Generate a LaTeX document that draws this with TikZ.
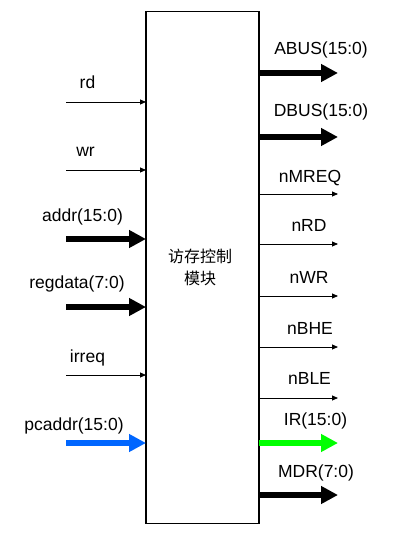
\documentclass[tikz,border=0pt]{standalone}
\usepackage{fontspec}
\setmainfont{Liberation Sans}
\newfontfamily\cjk{Noto Sans CJK SC}
\usetikzlibrary{arrows.meta}
\definecolor{busblue}{HTML}{0066FF}
\definecolor{busgreen}{HTML}{00FF00}
\begin{document}
\begin{tikzpicture}[x=1pt,y=-1pt,
  lbl/.style={anchor=base,inner sep=0pt,font=\fontsize{17.5}{20}\selectfont},
  thinsig/.style={line width=0.8pt,-{Triangle[length=6pt,width=5pt]}},
  bussig/.style={line width=6pt,-{Triangle[length=17pt,width=17pt]}},
]
\useasboundingbox (0,0) rectangle (408,534);
\node[draw,line width=1.2pt,minimum width=113pt,minimum height=511.7pt,inner sep=0pt,outer sep=0pt,anchor=north west] (box) at (146,11.5) {};
\node[font=\cjk\fontsize{16}{22}\selectfont,align=center,inner sep=0pt] (title) at (200,267) {访存控制\\模块};

% left inputs
\coordinate (rdS) at (66,102);
\coordinate (wrS) at (66,170);
\coordinate (addrS) at (66,239);
\coordinate (regS) at (66,307);
\coordinate (irqS) at (66,375);
\coordinate (pcS) at (66,443);
\draw[thinsig] (rdS) -- (rdS -| box.west);
\draw[thinsig] (wrS) -- (wrS -| box.west);
\draw[bussig] (addrS) -- (addrS -| box.west);
\draw[bussig] (regS) -- (regS -| box.west);
\draw[thinsig] (irqS) -- (irqS -| box.west);
\draw[bussig,busblue] (pcS) -- (pcS -| box.west);
\node[lbl] (rdL) at (87.5,89) {rd};
\node[lbl] (wrL) at (85.5,157) {wr};
\node[lbl] (addrL) at (82.5,222) {addr(15:0)};
\node[lbl] (regL) at (77,288) {regdata(7:0)};
\node[lbl] (irqL) at (87.5,362) {irreq};
\node[lbl] (pcL) at (74,430) {pcaddr(15:0)};

% right outputs
\coordinate (abusE) at (338,73);
\coordinate (dbusE) at (338,137);
\coordinate (mreqE) at (338,194);
\coordinate (nrdE) at (338,244);
\coordinate (nwrE) at (338,296);
\coordinate (bheE) at (338,347);
\coordinate (bleE) at (338,398);
\coordinate (irE) at (338,443);
\coordinate (mdrE) at (338,495);
\draw[bussig] (abusE -| box.east) -- (abusE);
\draw[bussig] (dbusE -| box.east) -- (dbusE);
\draw[thinsig] (mreqE -| box.east) -- (mreqE);
\draw[thinsig] (nrdE -| box.east) -- (nrdE);
\draw[thinsig] (nwrE -| box.east) -- (nwrE);
\draw[thinsig] (bheE -| box.east) -- (bheE);
\draw[thinsig] (bleE -| box.east) -- (bleE);
\draw[bussig,busgreen] (irE -| box.east) -- (irE);
\draw[bussig] (mdrE -| box.east) -- (mdrE);
\node[lbl] (abusL) at (321,55) {ABUS(15:0)};
\node[lbl] (dbusL) at (321,117) {DBUS(15:0)};
\node[lbl] (mreqL) at (310,183) {nMREQ};
\node[lbl] (nrdL) at (309,232) {nRD};
\node[lbl] (nwrL) at (309,283) {nWR};
\node[lbl] (bheL) at (310,334) {nBHE};
\node[lbl] (bleL) at (309.5,384) {nBLE};
\node[lbl] (irL) at (315.5,425) {IR(15:0)};
\node[lbl] (mdrL) at (316,477) {MDR(7:0)};
\end{tikzpicture}
\end{document}
